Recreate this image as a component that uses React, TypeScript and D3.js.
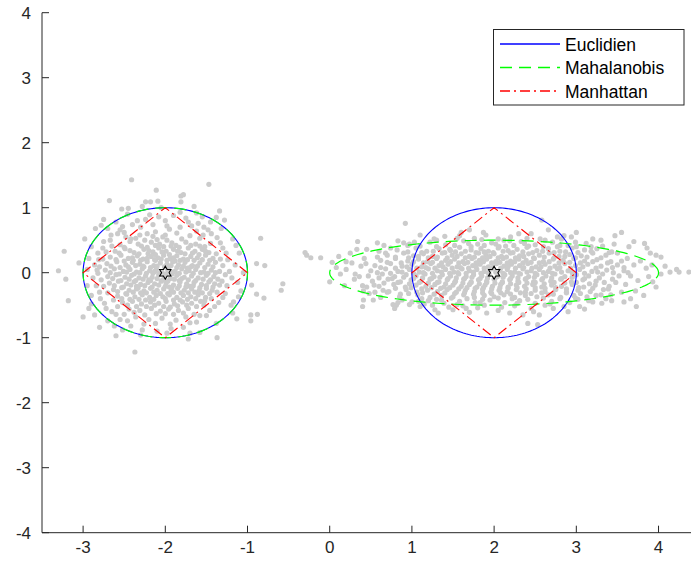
import React from "react";
import * as d3 from "d3";

// Axis ticks
const X_TICKS = [-3, -2, -1, 0, 1, 2, 3, 4];
const Y_TICKS = [-4, -3, -2, -1, 0, 1, 2, 3, 4];

// Cluster centres and unit-ball shapes for each distance
const CENTERS: [number, number][] = [[-2, 0], [2, 0]];
const EUCLID_RADIUS = [1, 1];
const MAHAL_RADII: [number, number][] = [[1, 1], [2, 0.5]];
const MANHATTAN_RADIUS = [1, 1];

const LEGEND_LABELS = ["Euclidien", "Mahalanobis", "Manhattan"];

// Samples of the isotropic cluster around (-2, 0)
const CLUSTER_A: [number, number][] = [
  [-2.31,0.58],[-2.12,0.63],[-2.03,0.55],[-1.86,0.61],[-1.7,0.57],[-2.42,0.52],[-1.95,0.67],[-2.22,0.6],[-1.62,0.64],
  [-2.55,0.43],[-2.43,0.48],[-2.29,0.41],[-2.17,0.47],[-2.07,0.44],[-1.98,0.5],[-1.87,0.42],[-1.75,0.47],[-1.63,0.44],[-1.52,0.4],[-2.36,0.53],[-1.92,0.46],[-2.1,0.51],
  [-2.61,0.33],[-2.49,0.37],[-2.38,0.31],[-2.26,0.36],[-2.15,0.32],[-2.08,0.38],[-1.99,0.33],[-1.9,0.36],[-1.81,0.31],[-1.72,0.38],[-1.64,0.33],[-1.55,0.36],[-1.47,0.31],[-2.21,0.29],[-1.95,0.28],
  [-2.67,0.24],[-2.54,0.27],[-2.45,0.22],[-2.34,0.26],[-2.27,0.21],[-2.17,0.25],[-2.09,0.23],[-2.02,0.27],[-1.94,0.22],[-1.86,0.26],[-1.78,0.21],[-1.69,0.25],[-1.61,0.23],[-1.51,0.27],[-1.42,0.22],[-2.39,0.19],[-1.88,0.18],[-2.12,0.19],
  [-2.71,0.14],[-2.59,0.17],[-2.48,0.12],[-2.4,0.16],[-2.31,0.13],[-2.22,0.17],[-2.14,0.11],[-2.06,0.15],[-1.98,0.13],[-1.91,0.17],[-1.84,0.12],[-1.76,0.16],[-1.67,0.11],[-1.58,0.15],[-1.48,0.13],[-1.39,0.16],[-2.26,0.09],[-1.96,0.08],[-1.73,0.07],
  [-2.73,0.04],[-2.62,0.06],[-2.51,0.02],[-2.43,0.05],[-2.35,0.01],[-2.28,0.06],[-2.19,0.03],[-2.11,0.05],[-2.04,0.01],[-1.97,0.04],[-1.88,0.02],[-1.8,0.06],[-1.71,0.03],[-1.63,0.05],[-1.53,0.01],[-1.44,0.04],[-1.34,0.02],[-2.15,-0.01],[-1.92,-0.02],
  [-2.7,-0.06],[-2.6,-0.03],[-2.49,-0.07],[-2.41,-0.04],[-2.32,-0.08],[-2.24,-0.05],[-2.16,-0.07],[-2.08,-0.03],[-2.01,-0.06],[-1.94,-0.09],[-1.86,-0.04],[-1.77,-0.07],[-1.68,-0.05],[-1.6,-0.08],[-1.5,-0.04],[-1.41,-0.06],[-1.36,-0.1],[-2.2,-0.11],[-1.83,-0.12],
  [-2.68,-0.16],[-2.57,-0.13],[-2.47,-0.17],[-2.38,-0.14],[-2.3,-0.18],[-2.21,-0.15],[-2.13,-0.17],[-2.05,-0.13],[-1.99,-0.16],[-1.9,-0.19],[-1.82,-0.14],[-1.74,-0.17],[-1.65,-0.15],[-1.56,-0.18],[-1.47,-0.14],[-1.4,-0.17],[-2.35,-0.21],[-1.95,-0.22],[-1.7,-0.21],
  [-2.63,-0.26],[-2.53,-0.23],[-2.44,-0.27],[-2.35,-0.25],[-2.26,-0.28],[-2.18,-0.24],[-2.1,-0.27],[-2.02,-0.25],[-1.93,-0.28],[-1.85,-0.24],[-1.77,-0.27],[-1.68,-0.25],[-1.59,-0.28],[-1.5,-0.24],[-1.43,-0.27],[-2.23,-0.31],[-1.97,-0.32],[-1.72,-0.31],
  [-2.58,-0.36],[-2.47,-0.33],[-2.37,-0.37],[-2.28,-0.34],[-2.19,-0.38],[-2.11,-0.35],[-2.03,-0.37],[-1.95,-0.34],[-1.86,-0.38],[-1.78,-0.35],[-1.69,-0.37],[-1.6,-0.34],[-1.51,-0.38],[-2.32,-0.41],[-1.9,-0.42],
  [-2.52,-0.46],[-2.4,-0.44],[-2.29,-0.48],[-2.18,-0.45],[-2.08,-0.47],[-1.99,-0.44],[-1.89,-0.48],[-1.79,-0.45],[-1.68,-0.47],[-1.57,-0.44],[-2.23,-0.52],[-1.94,-0.53],
  [-2.44,-0.56],[-2.31,-0.58],[-2.17,-0.55],[-2.06,-0.59],[-1.96,-0.56],[-1.84,-0.58],[-1.72,-0.55],[-2.11,-0.63],[-1.9,-0.64],
  [-2.36,-0.68],[-2.2,-0.72],[-2.04,-0.7],[-1.87,-0.73],[-1.75,-0.68],[-2.12,-0.78],
  [-2.75,0.48],[-2.82,0.3],[-2.86,0.12],[-2.88,-0.08],[-2.8,-0.3],[-2.74,-0.47],[-2.65,-0.6],[-2.55,-0.72],[-2.42,-0.82],[-2.28,-0.88],[-2.1,-0.9],[-1.93,-0.86],[-1.78,-0.84],[-1.62,-0.76],[-1.5,-0.66],[-1.4,-0.52],[-1.3,-0.38],[-1.25,-0.2],[-1.22,0.02],[-1.24,0.2],[-1.3,0.38],[-1.37,0.54],[-1.48,0.66],[-1.6,0.76],[-1.75,0.84],[-1.9,0.88],[-2.08,0.86],[-2.24,0.82],[-2.4,0.74],[-2.55,0.66],[-2.66,0.58],[-2.93,0.22],[-2.95,-0.2],[-2.6,0.78],[-1.45,0.78],[-1.2,-0.5],[-2.7,-0.74],[-1.58,-0.92],[-2.46,0.9],[-1.62,0.92],[-2.7,0.68],[-1.1,0.3],
  [-2.41,1.43],[-2.11,1.27],[-2.68,1.11],[-2.24,1.09],[-2.18,1.09],[-2.09,1.1],[-2.53,0.98],[-2.45,0.99],[-3.23,0.33],[-3.3,0.03],[-3.21,-0.1],[-3.18,-0.43],[-3.0,-0.68],[-2.8,-0.84],[-2.6,-0.97],[-2.37,-1.22],[-2.93,-0.55],[-2.86,-0.65],[-2.85,0.68],[-2.78,0.73],
  [-1.47,1.36],[-1.81,1.18],[-1.78,1.2],[-1.81,1.09],[-1.34,0.95],[-1.28,0.81],[-0.84,0.53],[-0.89,0.14],[-0.79,0.11],[-0.57,-0.17],[-0.59,-0.27],[-0.8,-0.39],[-0.89,-0.33],[-0.95,-0.19],[-0.96,-0.65],[-0.88,-0.64],[-0.96,-0.74],[-1.13,-0.71],[-1.37,-1.0],[-1.72,-1.02],[-1.17,-0.45],[-1.11,-0.37],
];

// Further samples of the same cluster, between the rows above
const CLUSTER_A_EXTRA: [number, number][] = [
  [-2.48,0.55],[-2.25,0.5],[-2.0,0.58],[-1.8,0.52],[-1.58,0.53],[-2.15,0.56],
  [-2.65,0.41],[-2.5,0.39],[-2.33,0.44],[-2.22,0.39],[-2.12,0.42],[-2.02,0.4],[-1.93,0.41],[-1.83,0.39],[-1.69,0.42],[-1.58,0.41],[-1.45,0.45],
  [-2.72,0.32],[-2.56,0.3],[-2.43,0.34],[-2.32,0.29],[-2.2,0.34],[-2.12,0.28],[-2.04,0.32],[-1.85,0.33],[-1.76,0.29],[-1.67,0.3],[-1.59,0.28],[-1.51,0.33],[-1.38,0.29],
  [-2.76,0.21],[-2.6,0.2],[-2.5,0.18],[-2.4,0.23],[-2.3,0.19],[-2.22,0.22],[-2.13,0.2],[-2.05,0.21],[-1.98,0.19],[-1.9,0.23],[-1.82,0.19],[-1.73,0.2],[-1.65,0.19],[-1.55,0.2],[-1.46,0.19],[-1.33,0.21],
  [-2.8,0.09],[-2.66,0.1],[-2.55,0.08],[-2.45,0.09],[-2.36,0.11],[-2.27,0.1],[-2.18,0.08],[-2.1,0.1],[-2.01,0.09],[-1.93,0.11],[-1.86,0.08],[-1.78,0.1],[-1.69,0.09],[-1.61,0.1],[-1.52,0.08],[-1.42,0.09],[-1.3,0.11],
  [-2.82,-0.01],[-2.67,0.0],[-2.56,-0.02],[-2.47,0.01],[-2.38,-0.02],[-2.31,0.0],[-2.23,-0.01],[-2.13,0.02],[-2.07,-0.01],[-1.99,-0.02],[-1.91,0.01],[-1.83,-0.01],[-1.75,0.01],[-1.66,-0.01],[-1.57,0.0],[-1.48,-0.01],[-1.39,0.0],[-1.27,-0.03],
  [-2.78,-0.11],[-2.64,-0.09],[-2.54,-0.12],[-2.44,-0.1],[-2.36,-0.12],[-2.27,-0.1],[-2.18,-0.12],[-2.1,-0.09],[-2.03,-0.11],[-1.97,-0.13],[-1.89,-0.1],[-1.8,-0.09],[-1.72,-0.11],[-1.63,-0.12],[-1.54,-0.1],[-1.45,-0.11],[-1.31,-0.13],
  [-2.75,-0.21],[-2.62,-0.2],[-2.51,-0.22],[-2.42,-0.19],[-2.33,-0.23],[-2.25,-0.2],[-2.16,-0.22],[-2.08,-0.19],[-2.0,-0.21],[-1.92,-0.23],[-1.83,-0.2],[-1.75,-0.22],[-1.66,-0.2],[-1.58,-0.23],[-1.5,-0.2],[-1.42,-0.22],[-1.34,-0.19],
  [-2.7,-0.31],[-2.58,-0.29],[-2.48,-0.32],[-2.39,-0.3],[-2.3,-0.31],[-2.14,-0.3],[-2.06,-0.32],[-1.9,-0.3],[-1.81,-0.31],[-1.64,-0.3],[-1.55,-0.31],[-1.46,-0.32],[-1.37,-0.3],
  [-2.63,-0.42],[-2.53,-0.4],[-2.43,-0.41],[-2.24,-0.42],[-2.14,-0.41],[-2.0,-0.4],[-1.82,-0.42],[-1.73,-0.41],[-1.63,-0.4],[-1.52,-0.43],[-1.44,-0.4],
  [-2.58,-0.52],[-2.46,-0.5],[-2.35,-0.52],[-2.13,-0.5],[-2.02,-0.52],[-1.85,-0.51],[-1.74,-0.5],[-1.62,-0.52],[-1.53,-0.5],
  [-2.5,-0.64],[-2.38,-0.61],[-2.25,-0.65],[-2.0,-0.63],[-1.78,-0.62],[-1.65,-0.64],
  [-2.3,0.7],[-2.15,0.74],[-1.98,0.72],[-1.82,0.7],[-1.68,0.72],[-2.5,0.62],[-1.54,0.58],
  [-2.9,0.4],[-2.95,0.05],[-2.9,-0.35],[-2.62,-0.82],[-2.3,-0.96],[-1.7,-0.93],[-1.38,-0.78],[-1.18,-0.62],[-1.15,0.12],[-1.18,0.52],[-1.38,0.85],[-2.75,0.82],[-3.05,0.15],[-2.05,1.0],[-2.28,1.02],[-1.65,1.02],[-1.12,-0.15],[-1.05,0.0],
  [-2.52,0.71],[-2.34,0.8],[-2.0,0.8],[-1.72,0.78],[-1.53,0.7],[-1.44,0.6],[-1.33,0.46],[-1.26,0.3],[-1.19,-0.08],[-1.27,-0.32],[-1.35,-0.46],[-1.46,-0.58],[-1.58,-0.66],[-1.7,-0.77],[-1.94,-0.79],[-2.26,-0.79],[-2.46,-0.74],[-2.6,-0.64],[-2.72,-0.55],[-2.79,-0.4],[-2.84,-0.2],[-2.83,0.04],[-2.81,0.2],[-2.76,0.38],[-2.67,0.5],[-2.58,0.6],[-2.19,0.89],[-1.82,0.93],[-1.55,0.86],[-1.32,0.68],[-1.14,0.42],[-1.08,-0.28],[-2.9,-0.48],[-2.98,0.52],[-1.98,-0.93],[-2.52,-0.88],
];

// Samples of the elongated cluster around (2, 0)
const CLUSTER_B: [number, number][] = [
  [0.95,0.42],[1.22,0.47],[1.41,0.43],[1.63,0.49],[1.8,0.44],[1.97,0.46],[2.14,0.41],[2.33,0.48],[2.5,0.43],[2.71,0.47],[2.9,0.42],[3.12,0.45],
  [0.82,0.35],[1.05,0.38],[1.18,0.33],[1.33,0.37],[1.47,0.34],[1.58,0.39],[1.72,0.35],[1.84,0.37],[1.93,0.33],[2.05,0.38],[2.17,0.34],[2.28,0.36],[2.4,0.39],[2.52,0.34],[2.66,0.37],[2.8,0.33],[2.95,0.38],[3.1,0.35],[3.25,0.37],
  [0.7,0.27],[0.9,0.3],[1.02,0.26],[1.14,0.29],[1.25,0.25],[1.37,0.3],[1.49,0.27],[1.6,0.29],[1.7,0.25],[1.81,0.3],[1.9,0.27],[2.0,0.29],[2.09,0.25],[2.2,0.3],[2.31,0.26],[2.42,0.29],[2.55,0.27],[2.67,0.3],[2.79,0.25],[2.92,0.28],[3.06,0.26],[3.2,0.3],[3.36,0.27],
  [0.62,0.19],[0.8,0.22],[0.95,0.18],[1.08,0.21],[1.19,0.17],[1.3,0.22],[1.41,0.19],[1.52,0.21],[1.62,0.17],[1.73,0.22],[1.82,0.19],[1.91,0.21],[2.02,0.17],[2.11,0.22],[2.2,0.18],[2.3,0.21],[2.39,0.19],[2.49,0.22],[2.6,0.17],[2.72,0.21],[2.84,0.19],[2.97,0.22],[3.1,0.18],[3.25,0.2],[3.42,0.17],
  [0.55,0.11],[0.74,0.14],[0.88,0.1],[1.0,0.13],[1.12,0.09],[1.23,0.14],[1.33,0.11],[1.44,0.13],[1.55,0.09],[1.64,0.14],[1.74,0.11],[1.83,0.13],[1.93,0.09],[2.03,0.14],[2.12,0.1],[2.21,0.13],[2.31,0.11],[2.41,0.14],[2.51,0.09],[2.62,0.13],[2.74,0.1],[2.86,0.14],[2.99,0.11],[3.14,0.13],[3.3,0.1],[3.5,0.12],
  [0.5,0.03],[0.68,0.06],[0.83,0.02],[0.97,0.05],[1.09,0.01],[1.2,0.06],[1.31,0.03],[1.41,0.05],[1.51,0.01],[1.61,0.06],[1.7,0.03],[1.79,0.05],[1.88,0.02],[1.97,0.06],[2.07,0.03],[2.16,0.05],[2.25,0.01],[2.35,0.06],[2.45,0.03],[2.55,0.05],[2.66,0.02],[2.77,0.06],[2.9,0.03],[3.04,0.05],[3.19,0.02],[3.37,0.04],[3.58,0.03],
  [0.47,-0.05],[0.64,-0.02],[0.79,-0.06],[0.93,-0.03],[1.05,-0.05],[1.16,-0.02],[1.27,-0.06],[1.37,-0.03],[1.47,-0.05],[1.57,-0.02],[1.66,-0.06],[1.75,-0.03],[1.85,-0.05],[1.94,-0.02],[2.04,-0.06],[2.13,-0.03],[2.22,-0.05],[2.32,-0.02],[2.42,-0.06],[2.52,-0.03],[2.63,-0.05],[2.74,-0.02],[2.86,-0.06],[3.0,-0.03],[3.15,-0.05],[3.32,-0.02],[3.52,-0.05],
  [0.52,-0.13],[0.71,-0.1],[0.86,-0.14],[0.99,-0.11],[1.11,-0.13],[1.22,-0.1],[1.33,-0.14],[1.43,-0.11],[1.53,-0.13],[1.63,-0.1],[1.72,-0.14],[1.81,-0.11],[1.91,-0.13],[2.0,-0.1],[2.1,-0.14],[2.19,-0.11],[2.29,-0.13],[2.38,-0.1],[2.48,-0.14],[2.58,-0.11],[2.69,-0.13],[2.81,-0.1],[2.94,-0.14],[3.08,-0.11],[3.24,-0.13],[3.44,-0.1],
  [0.6,-0.21],[0.78,-0.18],[0.92,-0.22],[1.05,-0.19],[1.17,-0.21],[1.28,-0.18],[1.39,-0.22],[1.5,-0.19],[1.6,-0.21],[1.7,-0.18],[1.79,-0.22],[1.89,-0.19],[1.98,-0.21],[2.08,-0.18],[2.17,-0.22],[2.27,-0.19],[2.37,-0.21],[2.47,-0.18],[2.58,-0.22],[2.7,-0.19],[2.82,-0.21],[2.95,-0.18],[3.09,-0.22],[3.23,-0.19],[3.4,-0.21],
  [0.72,-0.29],[0.93,-0.26],[1.06,-0.3],[1.19,-0.27],[1.31,-0.29],[1.43,-0.26],[1.54,-0.3],[1.65,-0.27],[1.76,-0.29],[1.86,-0.26],[1.96,-0.3],[2.06,-0.27],[2.16,-0.29],[2.27,-0.26],[2.38,-0.3],[2.5,-0.27],[2.62,-0.29],[2.75,-0.26],[2.88,-0.3],[3.02,-0.27],[3.17,-0.29],[3.33,-0.26],
  [0.85,-0.37],[1.07,-0.34],[1.22,-0.38],[1.36,-0.35],[1.5,-0.37],[1.63,-0.34],[1.76,-0.38],[1.88,-0.35],[2.0,-0.37],[2.12,-0.34],[2.25,-0.38],[2.38,-0.35],[2.52,-0.37],[2.66,-0.34],[2.81,-0.38],[2.97,-0.35],[3.13,-0.37],[3.3,-0.34],
  [1.0,-0.45],[1.2,-0.43],[1.39,-0.47],[1.58,-0.44],[1.77,-0.46],[1.95,-0.42],[2.13,-0.46],[2.31,-0.43],[2.5,-0.47],[2.7,-0.44],[2.92,-0.46],[3.15,-0.43],
  [-0.3,0.31],[-0.28,0.27],[-0.23,0.23],[-0.11,0.23],[0.03,0.16],[0.0,-0.14],[0.13,-0.02],[0.31,-0.02],[0.11,0.25],[0.2,0.17],[0.34,0.48],[0.58,0.46],[0.92,0.76],
  [0.4,-0.2],[0.41,-0.28],[0.54,-0.19],[0.53,-0.42],[0.41,-0.42],[0.4,-0.52],[0.7,-0.3],[0.77,-0.49],[0.81,-0.5],[0.83,-0.46],[0.97,-0.49],[0.88,-0.42],[1.08,-0.44],[0.79,-0.55],[0.97,0.44],[0.83,0.49],
  [2.58,0.81],[1.7,0.66],[2.66,0.66],[1.28,-0.57],[1.32,-0.62],[1.5,-0.57],[1.66,-0.55],[1.91,-0.62],[2.19,-0.62],[2.35,-0.65],[2.41,-0.78],[2.53,-0.8],[2.55,-0.65],
  [2.94,0.55],[3.55,0.62],[3.47,0.57],[3.83,0.45],[3.86,0.38],[3.9,0.3],[3.97,0.27],[4.03,0.24],[3.85,0.07],[3.88,-0.06],[3.93,-0.14],[3.97,-0.22],[4.03,-0.02],[4.14,0.01],[4.22,0.05],[4.25,0.01],[4.37,0.01],
  [3.73,-0.52],[3.66,-0.4],[3.43,-0.43],[3.31,-0.47],[3.04,-0.52],
  [0.25,0.3],[0.45,0.36],[0.6,0.33],[0.38,0.1],[0.3,-0.1],[0.48,-0.32],[0.62,-0.38],[0.66,0.42],[0.2,0.05],[0.42,0.22],
  [3.5,0.3],[3.62,0.22],[3.7,0.12],[3.66,-0.05],[3.6,-0.18],[3.55,-0.3],[3.72,-0.28],[3.78,0.18],[3.46,0.44],[3.3,0.5],[3.64,0.4],[3.75,-0.12],[3.58,0.08],[3.42,-0.34],[3.2,-0.45],
  [1.4,0.56],[1.9,0.58],[2.2,0.55],[2.85,0.57],[1.1,0.58],[2.45,0.6],[1.6,0.62],[3.0,0.62],[2.05,0.52],
  [1.1,-0.52],[1.8,-0.54],[2.05,-0.58],[2.72,-0.55],[2.9,-0.6],[1.45,-0.53],[3.1,-0.56],
];

// Further samples of the elongated cluster, between the rows above
const CLUSTER_B_EXTRA: [number, number][] = [
  [1.1,0.41],[1.3,0.4],[1.52,0.42],[1.72,0.4],[1.88,0.42],[2.06,0.4],[2.24,0.42],[2.42,0.41],[2.6,0.4],[2.8,0.42],[3.0,0.4],
  [0.95,0.32],[1.12,0.31],[1.26,0.33],[1.4,0.31],[1.53,0.32],[1.65,0.33],[1.78,0.31],[1.88,0.32],[1.99,0.31],[2.11,0.33],[2.23,0.31],[2.35,0.32],[2.47,0.31],[2.59,0.33],[2.73,0.31],[2.87,0.32],[3.02,0.31],[3.18,0.33],[3.4,0.31],
  [0.8,0.24],[0.96,0.23],[1.08,0.25],[1.2,0.23],[1.31,0.24],[1.43,0.23],[1.55,0.25],[1.65,0.23],[1.76,0.24],[1.86,0.23],[1.95,0.25],[2.05,0.23],[2.15,0.24],[2.26,0.23],[2.36,0.25],[2.48,0.23],[2.61,0.24],[2.73,0.23],[2.86,0.25],[2.99,0.23],[3.13,0.24],[3.3,0.23],
  [0.7,0.16],[0.87,0.15],[1.02,0.17],[1.14,0.15],[1.25,0.16],[1.36,0.15],[1.47,0.17],[1.57,0.15],[1.68,0.16],[1.78,0.15],[1.87,0.17],[1.97,0.15],[2.07,0.16],[2.16,0.15],[2.25,0.17],[2.35,0.15],[2.45,0.16],[2.55,0.15],[2.67,0.17],[2.79,0.15],[2.92,0.16],[3.05,0.15],[3.2,0.17],[3.38,0.15],
  [0.62,0.08],[0.8,0.07],[0.94,0.09],[1.06,0.07],[1.17,0.08],[1.28,0.07],[1.38,0.09],[1.49,0.07],[1.59,0.08],[1.69,0.07],[1.78,0.09],[1.88,0.07],[1.98,0.08],[2.08,0.07],[2.17,0.09],[2.26,0.07],[2.36,0.08],[2.46,0.07],[2.57,0.09],[2.68,0.07],[2.8,0.08],[2.93,0.07],[3.08,0.09],[3.24,0.07],[3.44,0.08],
  [0.58,0.0],[0.74,-0.01],[0.88,0.01],[1.02,-0.01],[1.14,0.0],[1.25,-0.01],[1.36,0.01],[1.46,-0.01],[1.56,0.0],[1.66,-0.01],[1.75,0.01],[1.84,-0.01],[1.93,0.0],[2.02,0.01],[2.11,-0.01],[2.2,0.0],[2.3,-0.01],[2.4,0.01],[2.5,-0.01],[2.6,0.0],[2.71,-0.01],[2.82,0.01],[2.95,0.0],[3.1,-0.01],[3.26,0.01],[3.45,0.0],
  [0.6,-0.08],[0.76,-0.09],[0.9,-0.07],[1.02,-0.09],[1.13,-0.08],[1.24,-0.09],[1.34,-0.07],[1.44,-0.09],[1.54,-0.08],[1.64,-0.09],[1.73,-0.07],[1.83,-0.09],[1.92,-0.08],[2.01,-0.09],[2.11,-0.07],[2.2,-0.09],[2.29,-0.08],[2.39,-0.09],[2.49,-0.07],[2.59,-0.09],[2.7,-0.08],[2.82,-0.09],[2.95,-0.07],[3.1,-0.09],[3.28,-0.08],
  [0.66,-0.16],[0.83,-0.15],[0.97,-0.17],[1.09,-0.15],[1.2,-0.16],[1.31,-0.15],[1.41,-0.17],[1.52,-0.15],[1.62,-0.16],[1.72,-0.15],[1.82,-0.17],[1.91,-0.15],[2.01,-0.16],[2.1,-0.15],[2.2,-0.17],[2.3,-0.15],[2.4,-0.16],[2.5,-0.15],[2.61,-0.17],[2.73,-0.15],[2.86,-0.16],[3.0,-0.15],[3.16,-0.17],[3.34,-0.15],
  [0.8,-0.24],[0.99,-0.23],[1.12,-0.25],[1.24,-0.23],[1.35,-0.24],[1.46,-0.23],[1.57,-0.25],[1.67,-0.23],[1.77,-0.24],[1.87,-0.23],[1.97,-0.25],[2.07,-0.23],[2.17,-0.24],[2.28,-0.23],[2.39,-0.25],[2.5,-0.23],[2.62,-0.24],[2.75,-0.23],[2.88,-0.25],[3.03,-0.23],[3.2,-0.24],
  [0.96,-0.32],[1.13,-0.31],[1.27,-0.33],[1.4,-0.31],[1.52,-0.32],[1.64,-0.31],[1.75,-0.33],[1.86,-0.31],[1.97,-0.32],[2.08,-0.31],[2.2,-0.33],[2.32,-0.31],[2.45,-0.32],[2.58,-0.31],[2.72,-0.33],[2.88,-0.31],[3.05,-0.32],
  [1.12,-0.4],[1.3,-0.41],[1.48,-0.39],[1.67,-0.4],[1.86,-0.41],[2.05,-0.39],[2.22,-0.4],[2.41,-0.41],[2.6,-0.39],[2.8,-0.4],[3.02,-0.41],
  [1.25,-0.5],[1.55,-0.49],[1.88,-0.5],[2.25,-0.51],[2.62,-0.5],[2.85,-0.52],
  [1.3,0.5],[1.55,0.53],[1.85,0.51],[2.12,0.5],[2.4,0.53],[2.62,0.5],[2.82,0.52],[3.2,0.52],
  [1.03,0.47],[1.27,0.52],[1.46,0.36],[1.69,0.45],[1.76,0.53],[2.02,0.44],[2.19,0.49],[2.37,0.45],[2.56,0.52],[2.77,0.4],[2.99,0.47],[3.18,0.4],[0.74,0.38],[0.58,0.24],[0.44,0.14],[0.36,-0.06],[0.45,-0.22],[0.65,-0.27],[0.86,-0.33],[1.15,-0.48],[1.36,-0.42],[1.62,-0.51],[1.83,-0.46],[2.09,-0.53],[2.28,-0.47],[2.45,-0.55],[2.68,-0.48],[2.99,-0.39],[3.24,-0.35],[3.39,-0.25],[3.48,-0.15],[3.63,0.0],[3.55,0.18],[3.43,0.32],[3.32,0.41],[0.68,0.3],[0.9,0.46],[1.58,0.57],[2.3,0.6],[2.77,0.55],[3.36,-0.4],[0.55,-0.3],[0.27,0.15],[0.18,-0.2],[3.82,-0.35],[3.92,0.12],[3.7,0.48],[4.08,0.1],[1.87,0.62],[2.48,-0.6],[1.7,-0.61],[3.58,-0.45],[0.33,0.36],[0.08,0.08],
];

const W = 691;
const H = 566;
const AXIS_COLOR = "#262626";
const FONT = "'Liberation Sans', Arial, Helvetica, sans-serif";

// Parametric angles for drawing ellipses
const ANGLES = d3.range(0, 360, 2).map((d) => (d * Math.PI) / 180);

function ellipsePoints(cx: number, cy: number, rx: number, ry: number): [number, number][] {
  return ANGLES.map((t) => [cx + rx * Math.cos(t), cy + ry * Math.sin(t)]);
}

function diamondPoints(cx: number, cy: number, r: number): [number, number][] {
  return [[cx + r, cy], [cx, cy + r], [cx - r, cy], [cx, cy - r]];
}

function hexagram(cx: number, cy: number, R: number): string {
  const r = R / Math.sqrt(3);
  const pts: string[] = [];
  for (let i = 0; i < 12; i++) {
    const a = -Math.PI / 2 + (i * Math.PI) / 6;
    const rad = i % 2 === 0 ? R : r;
    pts.push(`${cx + rad * Math.cos(a)},${cy + rad * Math.sin(a)}`);
  }
  return pts.join(" ");
}

export default function App() {
  const x = d3.scaleLinear().domain([-3.5, 4.4]).range([42, 691.4]);
  const y = d3.scaleLinear().domain([-4, 4]).range([532.7, 12.7]);

  const closed = d3
    .line<[number, number]>()
    .x((d) => x(d[0]))
    .y((d) => y(d[1]))
    .curve(d3.curveLinearClosed);

  const x0 = x(-3.5);
  const yb = y(-4);
  const yt = y(4);

  const samples = [...CLUSTER_A, ...CLUSTER_A_EXTRA, ...CLUSTER_B, ...CLUSTER_B_EXTRA];

  const legendRows = [
    { label: LEGEND_LABELS[0], color: "#0000ff", dash: undefined },
    { label: LEGEND_LABELS[1], color: "#00ff00", dash: "12,7" },
    { label: LEGEND_LABELS[2], color: "#ff0000", dash: "10,4,2,4" },
  ];

  return (
    <svg
      width={W}
      height={H}
      style={{ position: "absolute", left: 0, top: 0, background: "#fff" }}
      fontFamily={FONT}
    >
      <rect x={0} y={0} width={W} height={H} fill="#fff" />

      {/* scatter samples */}
      <g fill="#cbcbcb">
        {samples.map((d, i) => (
          <circle key={i} cx={x(d[0])} cy={y(d[1])} r={2.6} />
        ))}
      </g>

      {/* Euclidean unit circles */}
      <g fill="none" stroke="#0000ff" strokeWidth={1.1}>
        {CENTERS.map((c, i) => (
          <path key={i} d={closed(ellipsePoints(c[0], c[1], EUCLID_RADIUS[i], EUCLID_RADIUS[i])) || ""} />
        ))}
      </g>

      {/* Mahalanobis unit ellipses */}
      <g fill="none" stroke="#00ff00" strokeWidth={1.2} strokeDasharray="12,7">
        {CENTERS.map((c, i) => (
          <path key={i} d={closed(ellipsePoints(c[0], c[1], MAHAL_RADII[i][0], MAHAL_RADII[i][1])) || ""} />
        ))}
      </g>

      {/* Manhattan unit diamonds */}
      <g fill="none" stroke="#ff0000" strokeWidth={1.1} strokeDasharray="10,4,2,4">
        {CENTERS.map((c, i) => (
          <path key={i} d={closed(diamondPoints(c[0], c[1], MANHATTAN_RADIUS[i])) || ""} />
        ))}
      </g>

      {/* centres */}
      <g fill="none" stroke="#000" strokeWidth={1.1}>
        {CENTERS.map((c, i) => (
          <polygon key={i} points={hexagram(x(c[0]), y(c[1]), 6.5)} />
        ))}
      </g>

      {/* axes */}
      <g stroke={AXIS_COLOR} strokeWidth={1} fill="none">
        <line x1={x0} x2={x0} y1={yt} y2={yb} />
        <line x1={x0} x2={W} y1={yb} y2={yb} />
        {Y_TICKS.map((t) => (
          <line key={`yt${t}`} x1={x0} x2={x0 + 7} y1={y(t)} y2={y(t)} />
        ))}
        {X_TICKS.map((t) => (
          <line key={`xt${t}`} x1={x(t)} x2={x(t)} y1={yb} y2={yb - 7} />
        ))}
      </g>
      <g fill={AXIS_COLOR} fontSize={17}>
        {Y_TICKS.map((t) => (
          <text key={`yl${t}`} x={31} y={y(t) + 6.5} textAnchor="end">
            {t}
          </text>
        ))}
        {X_TICKS.map((t) => (
          <text key={`xl${t}`} x={x(t)} y={553} textAnchor="middle">
            {t}
          </text>
        ))}
      </g>

      {/* legend */}
      <g>
        <rect x={493.5} y={29.5} width={190.5} height={75.5} fill="#fff" stroke={AXIS_COLOR} strokeWidth={1} />
        {legendRows.map((r, i) => {
          const ry = [44, 67.5, 91][i];
          return (
            <g key={r.label}>
              <path
                d={`M500,${ry}H560`}
                fill="none"
                stroke={r.color}
                strokeWidth={1.6}
                strokeDasharray={r.dash}
              />
              <text x={565} y={ry + 6.5} fontSize={17.5} fill="#000">
                {r.label}
              </text>
            </g>
          );
        })}
      </g>
    </svg>
  );
}
